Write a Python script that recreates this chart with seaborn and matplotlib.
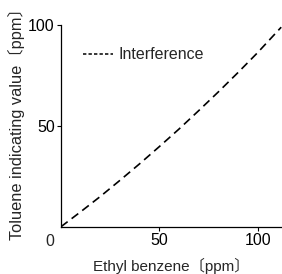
import matplotlib
matplotlib.use("Agg")
import matplotlib.pyplot as plt
from matplotlib.lines import Line2D
import seaborn as sns
import pandas as pd

# Data
ethyl_benzene = [0, 10, 20, 30, 40, 50, 60, 70, 80, 90, 100, 112]
toluene_value = [0, 7.4, 15.0, 23.0, 31.2, 39.7, 48.4, 57.5, 66.8, 76.4, 86.3, 98.9]
series_label = "Interference"
x_ticks = [50, 100]
y_ticks = [50, 100]
x_label = "Ethyl benzene〔ppm〕"
y_label = "Toluene indicating value〔ppm〕"

sns.set_style("ticks")
plt.rcParams["font.family"] = ["Liberation Sans", "Noto Sans CJK JP", "DejaVu Sans"]

df = pd.DataFrame({"x": ethyl_benzene, "y": toluene_value})

fig = plt.figure(figsize=(2.82, 2.74), dpi=100)
ax = fig.add_axes([0.2163, 0.1726, 0.7837, 0.7362])

sns.lineplot(data=df, x="x", y="y", ax=ax, color="black", linewidth=1.2,
             linestyle=(0, (5, 3)), legend=False)

ax.set_xlim(0, 112.4)
ax.set_ylim(0, 100)
ax.set_xticks(x_ticks)
ax.set_yticks(y_ticks)
ax.tick_params(axis="both", labelsize=11.5, length=3, width=0.8, color="black",
               labelcolor="black", pad=1.5)
for s in ["top", "right"]:
    ax.spines[s].set_visible(False)
for s in ["left", "bottom"]:
    ax.spines[s].set_linewidth(0.9)
    ax.spines[s].set_color("black")

ax.annotate("0", xy=(0, 0), xycoords="data", xytext=(-8, -5.5),
            textcoords="offset points", ha="center", va="top", fontsize=11.5)

ax.set_xlabel(x_label, fontsize=11, labelpad=7)
ax.set_ylabel(y_label, fontsize=11.8)
ax.yaxis.set_label_coords(-0.163, 0.53)

handle = Line2D([], [], color="black", linewidth=1.1, linestyle=(0, (2.2, 1.4)))
ax.legend([handle], [series_label], loc="upper left", bbox_to_anchor=(0.10, 0.89),
          frameon=False, fontsize=11.5, handlelength=1.9, handletextpad=0.3,
          borderpad=0, borderaxespad=0)

fig.savefig("out.png", dpi=100)
